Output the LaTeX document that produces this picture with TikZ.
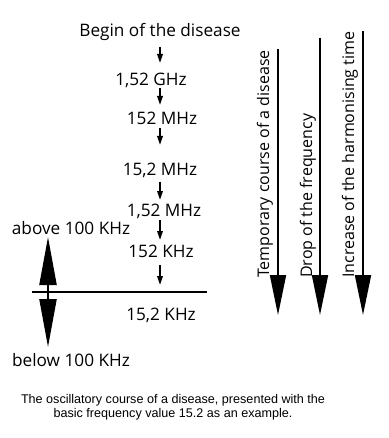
\documentclass[tikz,border=0pt]{standalone}
\usepackage{fontspec}
\setmainfont{Open Sans}
\newfontfamily\capfont{Liberation Sans}
\usetikzlibrary{arrows.meta,calc,positioning}

\begin{document}
\begin{tikzpicture}[x=1pt,y=-1pt,
  freq/.style={font=\fontsize{17.2}{19}\selectfont, inner sep=0pt, anchor=base},
  smallarr/.style={line width=1.7pt, -{Triangle[length=9pt,width=5.5pt]}},
  bigarr/.style={line width=1.8pt, -{Triangle[length=40pt,width=16pt]}},
  dblarr/.style={line width=2.2pt, -{Triangle[length=48pt,width=17pt]}},
  sidelbl/.style={freq, font=\fontsize{16}{18}\selectfont, rotate=90, anchor=base west}]
  \useasboundingbox (0,0) rectangle (388,438);

  \node[freq] (begin) at (160,37) {Begin of the disease};
  \node[freq] (f1) at (151,86) {1,52 GHz};
  \node[freq] (f2) at (162,125) {152 MHz};
  \node[freq] (f3) at (160,176) {15,2 MHz};
  \node[freq] (f4) at (164,216) {1,52 MHz};
  \node[freq] (f5) at (161,257) {152 KHz};
  \node[freq] (f6) at (161,320) {15,2 KHz};
  \node[freq] (above) at (71,234) {above 100 KHz};
  \node[freq] (below) at (71,366) {below 100 KHz};

  \coordinate (lineL) at (32,292);
  \coordinate (lineR) at (207,292);
  \draw[line width=1.6pt] (lineL) -- (lineR);

  \draw[smallarr] ($(begin.base)+(0,10)$) -- ($(begin.base |- f1.base)+(0,-23)$);
  \draw[smallarr] ($(begin.base |- f1.base)+(0,2)$) -- ($(begin.base |- f2.base)+(0,-20)$);
  \draw[smallarr] ($(begin.base |- f2.base)+(0,3)$) -- ($(begin.base |- f3.base)+(0,-31)$);
  \draw[smallarr] ($(begin.base |- f3.base)+(0,6)$) -- ($(begin.base |- f4.base)+(0,-16)$);
  \draw[smallarr] ($(begin.base |- f4.base)+(0,4)$) -- ($(begin.base |- f5.base)+(0,-17)$);
  \draw[smallarr] ($(begin.base |- f5.base)+(0,8)$) -- ($(begin.base |- lineL)+(0,-7)$);

  \coordinate (mid) at ($(lineL)+(16,0)$);
  \draw[dblarr] (mid) -- ($(above.base -| mid)+(0,3)$);
  \draw[dblarr] (mid) -- ($(below.base -| mid)+(0,-19)$);

  \node[sidelbl] (course) at (269,278) {Temporary course of a disease};
  \node[sidelbl] (drop) at (312,278) {Drop of the frequency};
  \node[sidelbl] (incr) at (354,278) {Increase of the harmonising time};
  \draw[bigarr] ($(course.base east)+(9,-1)$) -- ($(course.base west)+(9,37)$);
  \draw[bigarr] ($(drop.base west)+(8,-240)$) -- ($(drop.base west)+(8,37)$);
  \draw[bigarr] ($(incr.base east)+(9,0)$) -- ($(incr.base west)+(9,37)$);

  \node[font=\capfont\fontsize{12.6}{14}\selectfont, align=center, anchor=base] (cap) at (173,417)
    {The oscillatory course of a disease, presented with the\\basic frequency value 15.2 as an example.};
\end{tikzpicture}
\end{document}
